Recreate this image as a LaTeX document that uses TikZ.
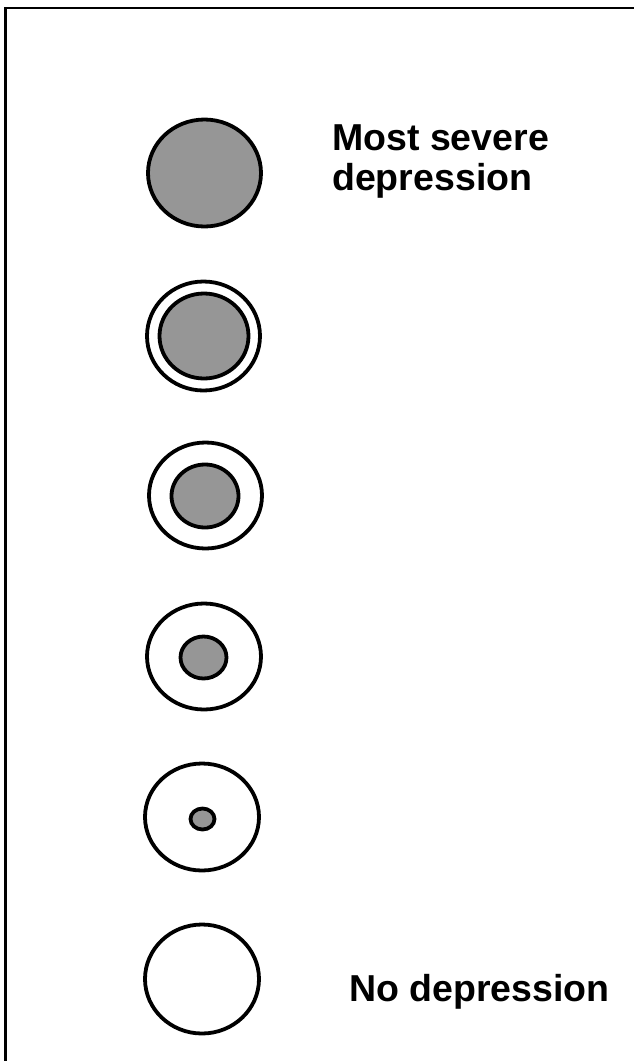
\documentclass[tikz,border=0pt]{standalone}
\usepackage{fontspec}
\setmainfont{Liberation Sans}
\definecolor{dgray}{RGB}{150,150,150}
\begin{document}
\begin{tikzpicture}[x=1pt,y=-1pt,
  ring/.style={draw=black,line width=3.8pt,fill=white},
  core/.style={draw=black,line width=3.8pt,fill=dgray},
  lbl/.style={inner sep=0pt,font=\bfseries\fontsize{37.5}{40}\selectfont,align=left}]
\useasboundingbox (0,0) rectangle (634,1061);
\begin{scope}
\clip (0,0) rectangle (634,1061);
\draw[line width=2.2pt] (5.5,8) rectangle (660,1100);
\end{scope}
% 1
\draw[core] (204.5,173) ellipse [x radius=56.5, y radius=53.5];
% 2
\draw[ring] (203.5,336) ellipse [x radius=56.5, y radius=54.5];
\draw[core] (204,336) ellipse [x radius=44.5, y radius=42.5];
% 3
\draw[ring] (205.5,495.5) ellipse [x radius=56.5, y radius=53];
\draw[core] (205,496) ellipse [x radius=33.5, y radius=31.5];
% 4
\draw[ring] (204,656.5) ellipse [x radius=57, y radius=53];
\draw[core] (203.5,657.5) ellipse [x radius=23, y radius=21];
% 5
\draw[ring] (202,817) ellipse [x radius=57, y radius=53.5];
\draw[core] (202.5,819) ellipse [x radius=12, y radius=10.5];
% 6
\draw[ring] (202,979) ellipse [x radius=57, y radius=54.5];
\node[lbl,anchor=north west] (most) at (332,124) {Most severe\\depression};
\node[lbl,anchor=base west] (none) at (349,1001) {No depression};
\end{tikzpicture}
\end{document}
